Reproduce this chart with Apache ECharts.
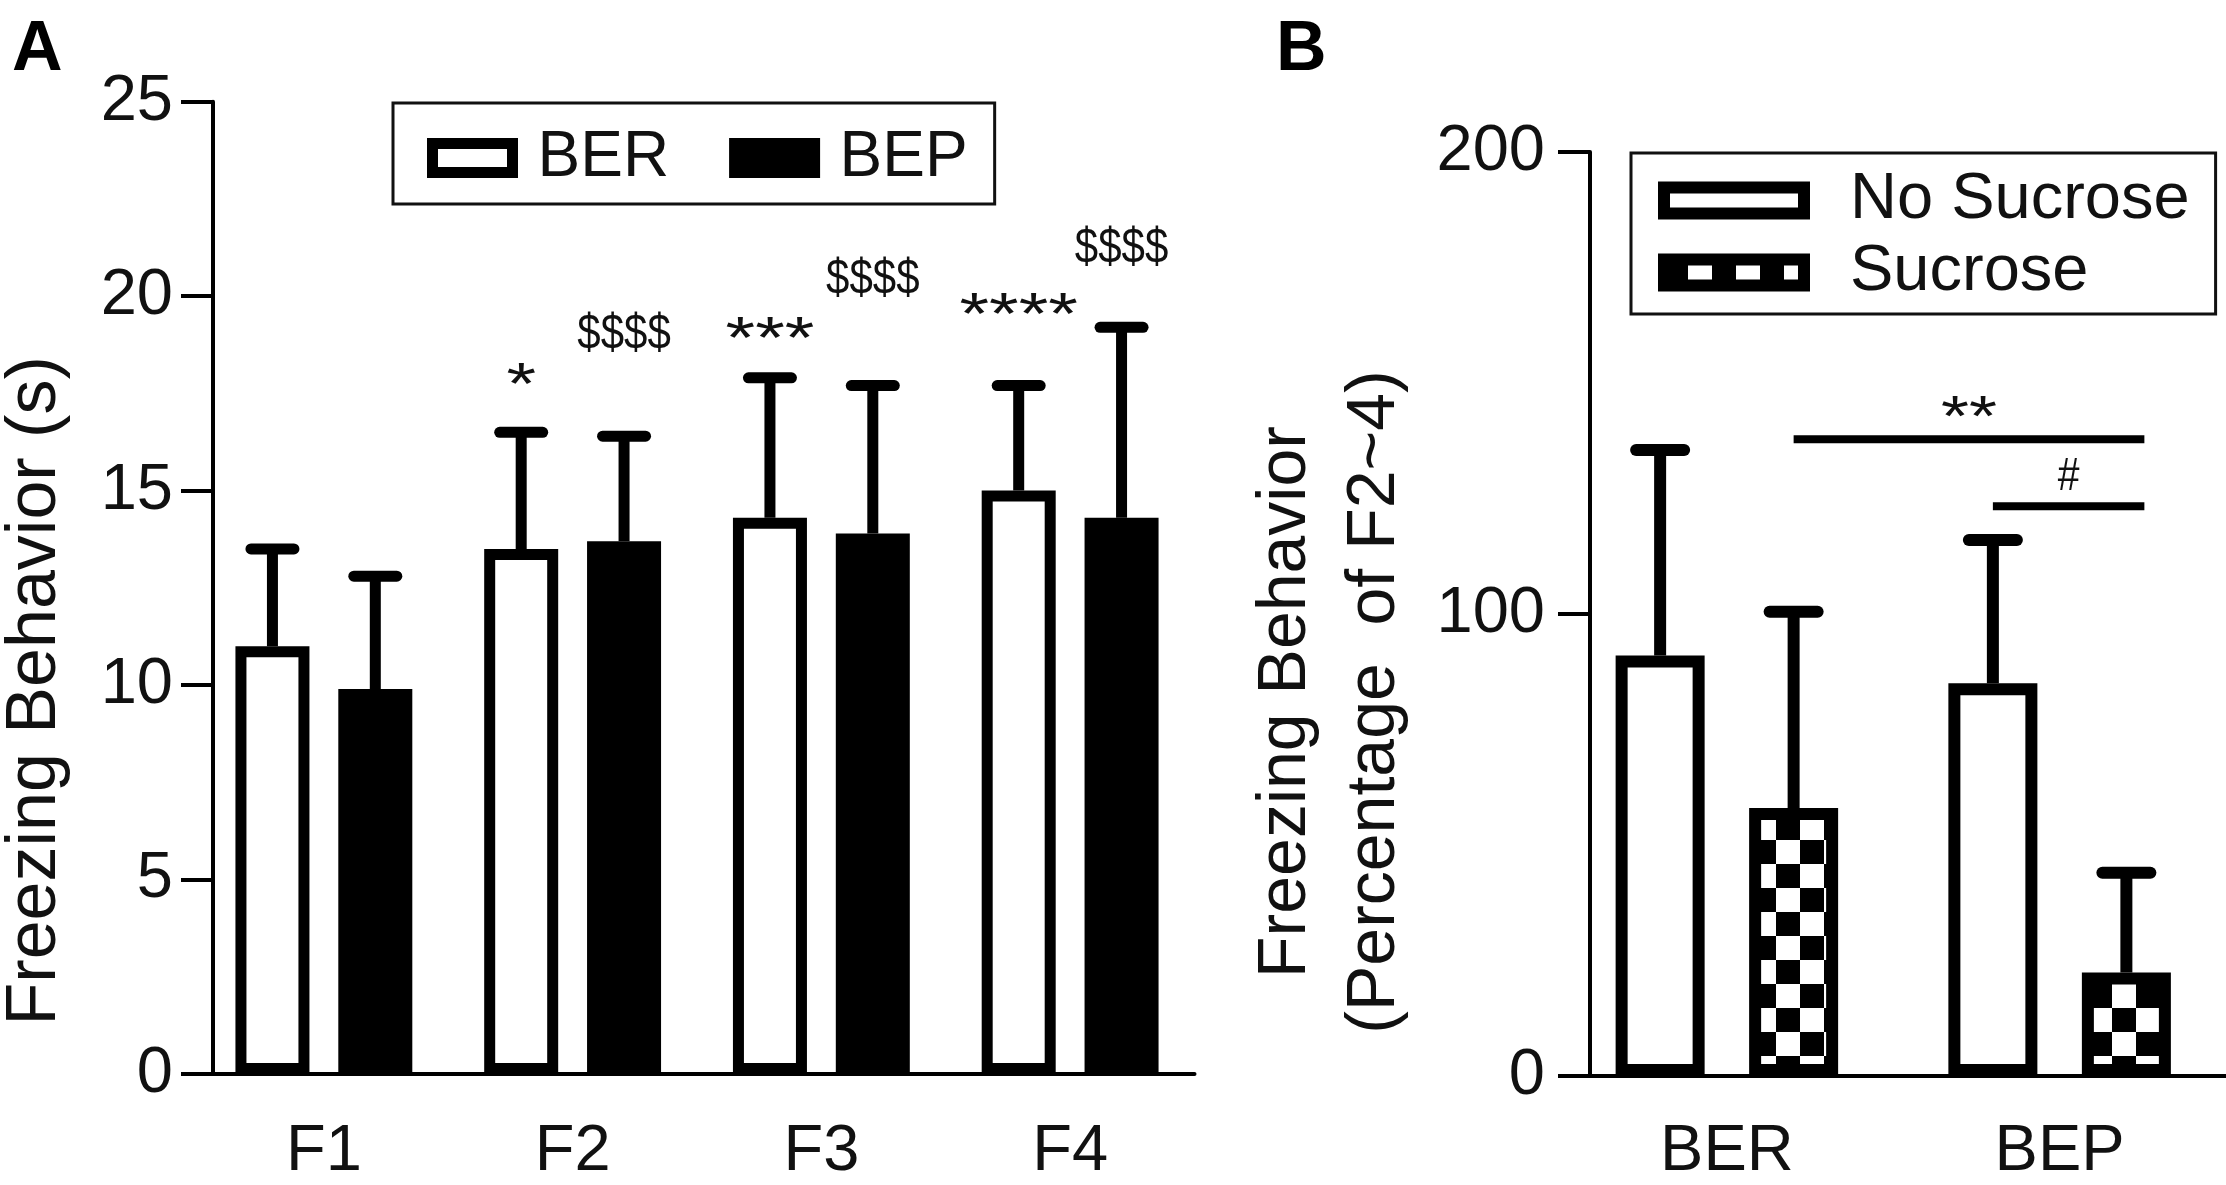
<!DOCTYPE html>
<html>
<head>
<meta charset="utf-8">
<script src="https://cdn.jsdelivr.net/npm/echarts@6/dist/echarts.min.js"></script>
<style>
html,body{margin:0;padding:0;background:#fff}
#main{width:2226px;height:1185px}
</style>
</head>
<body>
<div id="main"></div>
<script>
// panel A
var catsA = ['F1', 'F2', 'F3', 'F4'];
var berMean = [11.0, 13.5, 14.3, 15.0];
var berSem = [2.5, 3.0, 3.6, 2.7];
var bepMean = [9.9, 13.7, 13.9, 14.3];
var bepSem = [2.9, 2.7, 3.8, 4.9];
var sigBer = ['', '*', '***', '****'];
var sigBerY = [null, 18.0, 19.2, 19.8];
var sigBep = ['', '$$$$', '$$$$', '$$$$'];
var sigBepY = [null, 19.0, 20.4, 21.2];
var ticksA = [0, 25, 5];

// panel B
var catsB = ['BER', 'BEP'];
var noSucMean = [91, 85];
var noSucSem = [44.5, 31];
var sucMean = [58, 22.4];
var sucSem = [42.5, 21.6];
var ticksB = [0, 200, 100];
// brackets: [startCat, startSide, endCat, endSide, y, text, textY]
var bracketB = [
	[0, 1, 1, 1, 137.8, '**', 145],
	[1, -1, 1, 1, 123.3, '#', 129.6]
];

var FONT = '"Liberation Sans", Arial, Helvetica, sans-serif';
var chart = echarts.init(document.getElementById('main'));

function checker(size) {
	var c = document.createElement('canvas');
	c.width = c.height = size * 2;
	var g = c.getContext('2d');
	g.fillStyle = '#fff';
	g.fillRect(0, 0, size * 2, size * 2);
	g.fillStyle = '#000';
	g.fillRect(0, 0, size, size);
	g.fillRect(size, size, size, size);
	return c;
}
var checkFill = {image: checker(24), repeat: 'repeat'};

// bar geometry (rect width, gap ratio) -> half distance between bar centers
var bwA = 74, gapA = 0.39, offA = bwA * (1 + gapA) / 2;
var bwB = 89, gapB = 0.5, offB = bwB * (1 + gapB) / 2;

function errorBars(off, cap, lw) {
	return function (params, api) {
		var c = api.value(0), m = api.value(1), e = api.value(2);
		var base = api.coord([c, m]), top = api.coord([c, m + e]);
		var x = base[0] + off;
		return {type: 'group', children: [
			{type: 'line', shape: {x1: x, y1: base[1], x2: x, y2: top[1]}, style: {stroke: '#000', lineWidth: lw}},
			{type: 'line', shape: {x1: x - cap, y1: top[1], x2: x + cap, y2: top[1]}, style: {stroke: '#000', lineWidth: lw, lineCap: 'round'}}
		]};
	};
}
// text drawn at its own origin, squeezed by sx / sy
function sigLabels(texts, off, size, sx, sy, dy) {
	return function (params, api) {
		var c = api.value(0);
		var p = api.coord([c, api.value(1)]);
		return {type: 'text', x: p[0] + off, y: p[1] + dy, scaleX: sx, scaleY: sy,
			style: {text: texts[c], x: 0, y: 0, align: 'center', verticalAlign: 'middle', font: size + 'px ' + FONT, fill: '#111'}};
	};
}
function pack(means, sems) {
	return means.map(function (m, i) { return [i, m, sems[i]]; });
}
function packSig(ys) {
	var out = [];
	ys.forEach(function (y, i) { if (y != null) out.push([i, y]); });
	return out;
}

var axisLine = {lineStyle: {color: '#000', width: 4}};
var axisTick = {length: 32, lineStyle: {color: '#000', width: 4}};
var lbl = {color: '#111', fontSize: 65, fontFamily: FONT};

var option = {
	animation: false,
	title: [
		{text: 'A', left: 12, top: 16, padding: 0, textStyle: {fontSize: 70, fontWeight: 'bold', fontFamily: FONT, color: '#000'}},
		{text: 'B', left: 1276, top: 16, padding: 0, textStyle: {fontSize: 70, fontWeight: 'bold', fontFamily: FONT, color: '#000'}}
	],
	legend: [{
		data: [
			{name: 'BER', itemStyle: {color: '#fff', borderColor: '#000', borderWidth: 11}},
			{name: 'BEP', itemStyle: {color: '#000', borderColor: '#000', borderWidth: 11}}
		],
		left: 393, top: 103, icon: 'rect', itemWidth: 80, itemHeight: 29, itemGap: 60,
		padding: [23, 27, 14, 34], borderColor: '#111', borderWidth: 3,
		textStyle: {fontSize: 64, lineHeight: 64, color: '#111', fontFamily: FONT, padding: [0, 0, 0, 20]},
		selectedMode: false
	}, {
		data: [
			{name: 'No Sucrose', itemStyle: {color: '#fff', borderColor: '#000', borderWidth: 12}},
			{name: 'Sucrose', itemStyle: {color: checkFill, borderColor: '#000', borderWidth: 12}}
		],
		orient: 'vertical', left: 1631, top: 153, icon: 'rect', itemWidth: 140, itemHeight: 26, itemGap: 7,
		padding: [15, 26, 9, 27], borderColor: '#111', borderWidth: 3,
		textStyle: {fontSize: 65, lineHeight: 62, color: '#111', fontFamily: FONT, padding: [0, 0, 0, 41]},
		selectedMode: false
	}],
	grid: [
		{left: 198.5, width: 996, top: 101.7, bottom: 106},
		{left: 1560.5, width: 666, top: 152, bottom: 106}
	],
	xAxis: [
		{type: 'category', gridIndex: 0, data: catsA, axisLine: axisLine, axisTick: axisTick,
			axisLabel: Object.assign({margin: 46}, lbl)},
		{type: 'category', gridIndex: 1, data: catsB, axisLine: axisLine, axisTick: axisTick,
			axisLabel: Object.assign({margin: 44}, lbl)}
	],
	yAxis: [
		{type: 'value', gridIndex: 0, min: ticksA[0], max: ticksA[1], interval: ticksA[2], offset: -13.5,
			axisLine: Object.assign({show: true}, axisLine), axisTick: Object.assign({show: true}, axisTick),
			splitLine: {show: false}, axisLabel: Object.assign({margin: 40}, lbl),
			name: 'Freezing Behavior (s)', nameLocation: 'middle', nameGap: 142,
			nameTextStyle: {fontSize: 70, lineHeight: 70, color: '#111', fontFamily: FONT, padding: [0, 206, 0, 0]}},
		{type: 'value', gridIndex: 1, min: ticksB[0], max: ticksB[1], interval: ticksB[2], offset: -29.5,
			axisLine: Object.assign({show: true}, axisLine), axisTick: Object.assign({show: true}, axisTick),
			splitLine: {show: false}, axisLabel: Object.assign({margin: 45}, lbl),
			name: 'Freezing Behavior\n(Percentage  of F2~4)', nameLocation: 'middle', nameGap: 170,
			nameTextStyle: {fontSize: 68, lineHeight: 89, color: '#111', fontFamily: FONT, padding: [0, 176, 0, 0]}}
	],
	series: [
		{name: 'BER', type: 'bar', xAxisIndex: 0, yAxisIndex: 0, data: berMean, barWidth: bwA, barGap: (gapA * 100) + '%',
			itemStyle: {color: '#fff', borderColor: '#000', borderWidth: 11}, emphasis: {disabled: true}},
		{name: 'BEP', type: 'bar', xAxisIndex: 0, yAxisIndex: 0, data: bepMean, barWidth: bwA, barGap: (gapA * 100) + '%',
			itemStyle: {color: '#000', borderColor: '#000', borderWidth: 11}, emphasis: {disabled: true}},
		{type: 'custom', xAxisIndex: 0, yAxisIndex: 0, data: pack(berMean, berSem), renderItem: errorBars(-offA, 21.5, 11), z: 3},
		{type: 'custom', xAxisIndex: 0, yAxisIndex: 0, data: pack(bepMean, bepSem), renderItem: errorBars(offA, 21.5, 11), z: 3},
		{type: 'custom', xAxisIndex: 0, yAxisIndex: 0, data: packSig(sigBerY), renderItem: sigLabels(sigBer, -offA, 76, 1, 0.78, 14), z: 4},
		{type: 'custom', xAxisIndex: 0, yAxisIndex: 0, data: packSig(sigBepY), renderItem: sigLabels(sigBep, offA, 50, 0.84, 1, 0), z: 4},

		{name: 'No Sucrose', type: 'bar', xAxisIndex: 1, yAxisIndex: 1, data: noSucMean, barWidth: bwB, barGap: (gapB * 100) + '%',
			itemStyle: {color: '#fff', borderColor: '#000', borderWidth: 12}, emphasis: {disabled: true}},
		{name: 'Sucrose', type: 'bar', xAxisIndex: 1, yAxisIndex: 1, data: sucMean, barWidth: bwB, barGap: (gapB * 100) + '%',
			itemStyle: {color: checkFill, borderColor: '#000', borderWidth: 12}, emphasis: {disabled: true}},
		{type: 'custom', xAxisIndex: 1, yAxisIndex: 1, data: pack(noSucMean, noSucSem), renderItem: errorBars(-offB, 24, 12), z: 3},
		{type: 'custom', xAxisIndex: 1, yAxisIndex: 1, data: pack(sucMean, sucSem), renderItem: errorBars(offB, 24, 12), z: 3},
		{type: 'custom', xAxisIndex: 1, yAxisIndex: 1, data: bracketB.map(function (b) { return [b[0], b[4]]; }), z: 4,
			renderItem: function (params, api) {
				var b = bracketB[params.dataIndex];
				var p0 = api.coord([b[0], b[4]]), p1 = api.coord([b[2], b[4]]);
				var x0 = p0[0] + b[1] * offB, x1 = p1[0] + b[3] * offB + 18;
				var t = api.coord([b[2], b[6]]);
				var star = b[5].indexOf('*') >= 0;
				return {type: 'group', children: [
					{type: 'line', shape: {x1: x0, y1: p0[1], x2: x1, y2: p0[1]}, style: {stroke: '#000', lineWidth: 8}},
					{type: 'text', x: (x0 + x1) / 2, y: t[1] + (star ? 14 : 0), scaleY: star ? 0.8 : 1, scaleX: star ? 1 : 0.85,
						style: {text: b[5], x: 0, y: 0, align: 'center', verticalAlign: 'middle',
							font: (star ? 72 : 46) + 'px ' + FONT, fill: '#111'}}
				]};
			}}
	]
};
chart.setOption(option);
</script>
</body>
</html>
